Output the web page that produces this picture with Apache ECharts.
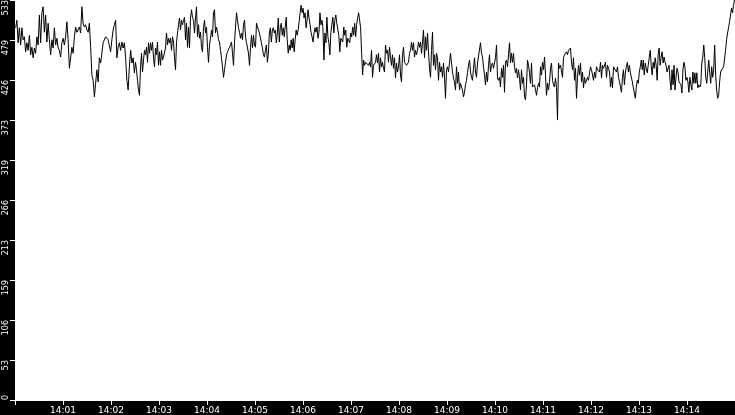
<!DOCTYPE html>
<html>
<head>
<meta charset="utf-8">
<script src="https://cdn.jsdelivr.net/npm/echarts@6/dist/echarts.min.js"></script>
<style>
html, body { margin: 0; padding: 0; background: #000; }
#main { width: 735px; height: 415px; }
</style>
</head>
<body>
<div id="main"></div>
<script>
// 14:00 起，每 2.5 分钟一段的采样值
const seg1 = [496, 506, 476, 496, 473, 496, 480, 484, 464, 476, 466, 486, 460, 470, 456, 469, 462, 484, 473, 513, 476, 516, 524, 490, 513, 477, 502, 480, 460, 480, 469, 496, 473, 482, 469, 466, 457, 476, 482, 473, 484, 504, 480, 442, 440, 470, 462, 484, 497, 490, 489, 497, 489, 524, 502, 497, 500, 493, 490, 502, 470, 433, 426, 404, 422, 440, 424, 456, 449, 462, 476, 477, 484, 486, 480, 482, 464, 480, 493, 500, 506, 456, 470, 476, 466, 477, 469, 476, 456, 426, 413, 444, 466, 449, 456, 436];
const seg2 = [450, 440, 426, 413, 406, 444, 462, 437, 453, 466, 460, 470, 450, 476, 462, 476, 466, 477, 456, 444, 469, 460, 477, 446, 464, 446, 466, 453, 457, 456, 469, 489, 473, 482, 476, 482, 466, 484, 477, 456, 440, 476, 489, 500, 509, 493, 506, 500, 506, 510, 480, 502, 470, 497, 469, 509, 520, 510, 506, 489, 509, 524, 484, 500, 482, 490, 470, 464, 496, 506, 489, 497, 470, 450, 473, 482, 493, 484, 516, 520, 489, 497, 490, 480, 477, 466, 456, 444, 430, 440, 450, 460, 464, 466, 466, 473, 477, 462, 446, 476, 497, 516, 506, 496, 490, 482, 489, 480, 500, 506, 484, 476, 469, 462, 446, 470, 486, 469, 486, 473];
const seg3 = [470, 502, 497, 493, 489, 482, 476, 469, 460, 457, 466, 473, 450, 462, 489, 496, 477, 493, 496, 489, 493, 476, 489, 509, 477, 496, 502, 486, 496, 484, 497, 510, 480, 462, 473, 466, 480, 469, 482, 464, 480, 493, 486, 493, 504, 516, 526, 516, 522, 509, 516, 496, 506, 520, 509, 500, 490, 484, 477, 489, 496, 490, 497, 482, 490, 516, 500, 506, 496, 453, 489, 476, 510, 484, 476, 460, 490, 500, 510, 489, 506, 513, 502, 500, 486, 464, 482, 484, 477, 497, 486, 493, 470, 482, 480, 476, 489, 484, 497, 486, 502, 484, 500, 509, 516, 517, 496, 462, 433, 453, 446, 450, 449, 450, 446, 450, 444, 466, 430, 446, 444];
const seg4 = [450, 460, 449, 462, 437, 456, 444, 450, 442, 437, 473, 462, 466, 450, 470, 457, 446, 460, 442, 456, 429, 449, 437, 444, 460, 433, 424, 460, 470, 450, 449, 446, 444, 450, 462, 466, 477, 466, 476, 457, 466, 460, 466, 477, 470, 477, 462, 477, 493, 456, 484, 466, 489, 464, 442, 430, 466, 490, 446, 460, 440, 462, 456, 426, 450, 437, 444, 430, 449, 430, 402, 440, 444, 437, 450, 462, 449, 437, 429, 424, 413, 444, 422, 437, 413, 422, 417, 413, 404, 410, 420, 426, 436, 446, 453, 437, 430, 426, 442, 456, 437, 430, 449, 450, 450, 476, 462, 457, 444, 433, 420, 437, 424, 446, 460, 437, 446, 449, 442, 440];
const seg5 = [456, 473, 429, 426, 430, 417, 442, 430, 446, 410, 450, 453, 444, 460, 476, 449, 462, 450, 462, 444, 436, 442, 429, 440, 429, 413, 440, 422, 430, 404, 400, 420, 453, 446, 436, 422, 449, 417, 416, 420, 413, 406, 416, 422, 417, 444, 433, 450, 440, 457, 433, 406, 422, 413, 424, 442, 449, 426, 420, 417, 429, 416, 373, 449, 442, 446, 444, 430, 456, 460, 462, 464, 460, 466, 464, 469, 450, 440, 456, 426, 442, 402, 430, 446, 433, 449, 424, 437, 416, 430, 422, 424, 430, 426, 436, 444, 440, 433, 426, 437, 429, 444, 440, 442, 437, 450, 429, 446, 442, 444, 450, 430, 446, 442, 437, 417, 430, 416, 444, 442];
const seg6 = [446, 437, 444, 430, 424, 417, 410, 430, 440, 420, 437, 444, 450, 437, 446, 436, 437, 424, 416, 409, 402, 417, 426, 422, 437, 444, 453, 440, 453, 433, 449, 442, 436, 446, 456, 466, 446, 433, 450, 442, 456, 446, 426, 460, 469, 446, 457, 464, 449, 457, 450, 446, 437, 442, 446, 426, 413, 440, 420, 446, 413, 430, 442, 437, 424, 422, 420, 409, 440, 450, 444, 426, 430, 424, 410, 430, 420, 413, 437, 422, 436, 422, 436, 416, 420, 417, 420, 449, 457, 473, 456, 430, 422, 437, 453, 436, 422, 444, 430, 440, 473, 433, 413, 402, 406, 424, 437, 440, 442, 444, 446, 466, 480, 489, 496, 504, 513, 522, 516, 526, 533];

const segments = [seg1, seg2, seg3, seg4, seg5, seg6];
const yMax = 533;
const yStep = 53.3;
const startTime = new Date(2024, 0, 1, 14, 0, 0).getTime();
const endTime = startTime + 15 * 60000;
const segMs = 150000;
const minute = 60000;

function buildData() {
    const d = [];
    segments.forEach((seg, i) => {
        const step = segMs / seg.length;
        seg.forEach((v, j) => {
            d.push([startTime + i * segMs + (j + 0.5) * step, v]);
        });
    });
    return d;
}

const eChart = echarts.init(document.getElementById('main'));
const option = {
    backgroundColor: '#000',
    animation: false,
    grid: {
        left: 15,
        right: 0,
        top: 0,
        bottom: 15,
        outerBoundsMode: 'none',
        containLabel: false,
        show: true,
        backgroundColor: '#fff',
        borderWidth: 0
    },
    xAxis: {
        type: 'time',
        min: startTime,
        max: endTime,
        minInterval: minute,
        maxInterval: minute,
        axisLine: { show: true, lineStyle: { color: '#fff', width: 1 } },
        axisTick: {
            show: true,
            length: 5,
            lineStyle: { color: '#fff', width: 1 }
        },
        axisLabel: {
            color: '#fff',
            fontSize: 9,
            fontFamily: 'DejaVu Sans',
            margin: 6,
            showMinLabel: false,
            showMaxLabel: false,
            formatter: function(v) {
                // 两端不显示
                if (v <= startTime || v >= endTime) {
                    return '';
                }
                return echarts.time.format(v, '{HH}:{mm}', false);
            }
        },
        splitLine: { show: false }
    },
    yAxis: {
        type: 'value',
        min: 0,
        max: yMax,
        interval: yStep,
        axisLine: { show: true, lineStyle: { color: '#fff', width: 1 } },
        axisTick: {
            show: true,
            length: 5,
            lineStyle: { color: '#fff', width: 1 }
        },
        axisLabel: {
            rotate: 90,
            align: 'right',
            verticalAlign: 'bottom',
            alignMinLabel: 'left',
            color: '#fff',
            fontSize: 8,
            fontFamily: 'DejaVu Sans',
            margin: 5,
            formatter: function(v) {
                return String(Math.floor(v + 0.01));
            }
        },
        splitLine: { show: false }
    },
    series: [
        {
            type: 'line',
            data: buildData(),
            showSymbol: false,
            symbol: 'none',
            lineStyle: { color: '#000', width: 1 },
            itemStyle: { color: '#000' }
        }
    ]
};
eChart.setOption(option);
</script>
</body>
</html>
